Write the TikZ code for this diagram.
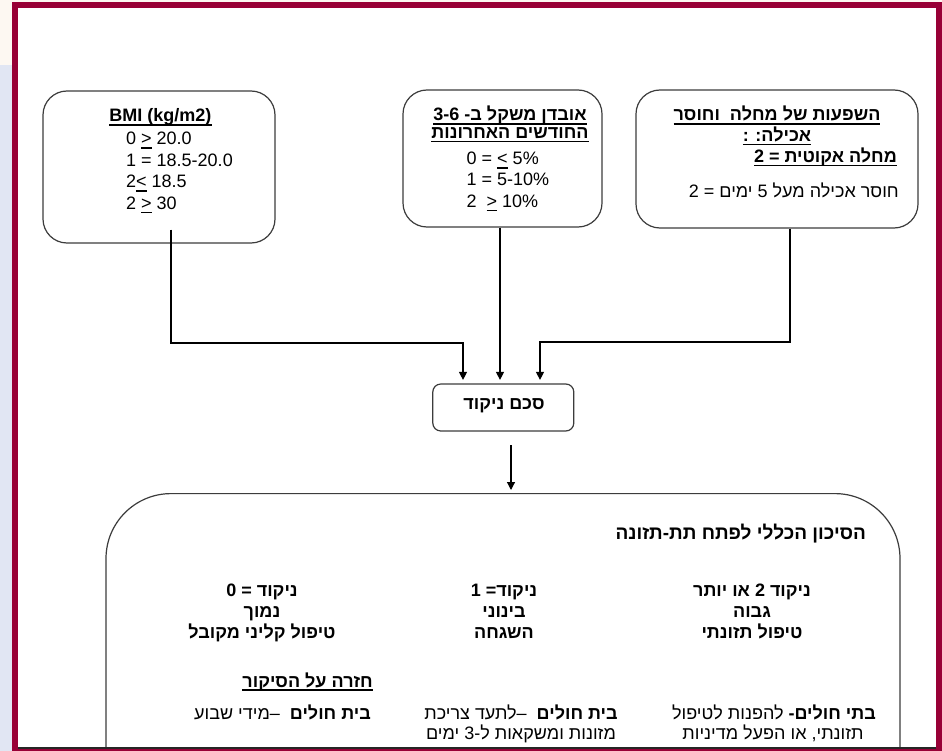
\documentclass[tikz,border=0pt]{standalone}
\usepackage{fontspec}
\setmainfont{Liberation Sans}
\newfontfamily\hebfont[Script=Hebrew]{Liberation Sans}
\usetikzlibrary{arrows.meta,calc}
\TeXXeTstate=1
% right-to-left and left-to-right runs
\newcommand{\rtl}[1]{{\hebfont\beginR #1\endR}}
\newcommand{\ltr}[1]{\beginL #1\endL}
% thick underline at a fixed depth below the baseline
\newsavebox{\ulsave}
\newcommand{\ulbox}[1]{\leavevmode\sbox{\ulsave}{#1}\rlap{\vrule height -2.2pt depth 3.8pt width \wd\ulsave}\usebox{\ulsave}}
\definecolor{framered}{RGB}{152,0,54}
\definecolor{pagecream}{RGB}{253,248,242}
\definecolor{sidelav}{RGB}{225,230,243}
\definecolor{boxgray}{RGB}{60,60,60}
\begin{document}
\begin{tikzpicture}[x=1pt,y=-1pt,
  tbox/.style={draw=boxgray, line width=1.2pt, rounded corners=24pt, inner sep=0pt},
  txt/.style={inner sep=0pt, font=\fontsize{18}{22}\selectfont},
  conn/.style={draw=black, line width=1.2pt},
  arr/.style={-{Triangle[width=8pt,length=8pt]}}]
\useasboundingbox (0,0) rectangle (942,751);
% page surround
\fill[pagecream] (0,0) rectangle (942,751);
\fill[sidelav] (0,65) rectangle (12,751);
\fill[white] (15,5) rectangle (939,752);

% ---- input boxes ----
\node[tbox, minimum width=232pt, minimum height=152pt] (bmi) at (159,167) {};
\node[tbox, minimum width=199pt, minimum height=137pt] (loss) at (502.5,158.5) {};
\node[tbox, minimum width=282pt, minimum height=138pt] (ill) at (777,159) {};

% BMI
\node[txt, anchor=base] (bmiH) at (160.5,122) {\textbf{\ulbox{BMI (kg/m2)}}};
\node[txt, anchor=base west] (bmi0) at (126,145) {0 \ulbox{>} 20.0};
\node[txt, anchor=base west] (bmi1) at (126,167) {1 = 18.5-20.0};
\node[txt, anchor=base west] (bmi2) at (126,188) {2\ulbox{<} 18.5};
\node[txt, anchor=base west] (bmi3) at (126,209.5) {2 \ulbox{>} 30};

% weight loss
\node[txt, anchor=base] (lossH1) at (510,121) {\textbf{\ulbox{\rtl{אובדן משקל ב- \ltr{3-6}}}}};
\node[txt, anchor=base] (lossH2) at (510,138.5) {\textbf{\ulbox{\rtl{החודשים האחרונות}}}};
\node[txt, anchor=base west] (loss0) at (466.5,165) {0 = \ulbox{<} 5\%};
\node[txt, anchor=base west] (loss1) at (466.5,186) {1 = 5-10\%};
\node[txt, anchor=base west] (loss2) at (466.5,207.5) {2\ \ \ulbox{>} 10\%};

% illness and not eating
\node[txt, anchor=base] (illH1) at (777,121) {\textbf{\ulbox{\rtl{השפעות של מחלה\ \ וחוסר}}}};
\node[txt, anchor=base] (illH2) at (777,141.5) {\textbf{\ulbox{\rtl{אכילה: :}}}};
\node[txt, anchor=base east] (illA) at (897,162.5) {\textbf{\ulbox{\rtl{מחלה אקוטית = 2}}}};
\node[txt, anchor=base east] (illB) at (899,198) {\rtl{חוסר אכילה מעל 5 ימים = 2}};

% ---- score sum ----
\node[tbox, rounded corners=8pt, minimum width=141pt, minimum height=47pt] (sum) at (503.3,407.5) {};
\node[txt, anchor=base] (sumT) at (504,409.3) {\textbf{\rtl{סכם ניקוד}}};

% ---- overall risk ----
\node[tbox, rounded corners=65pt, minimum width=794pt, minimum height=400pt, anchor=north] (risk) at (503,493) {};
\node[txt, anchor=base east] (riskH) at (866,539.3) {\fontsize{19}{22}\selectfont\textbf{\rtl{הסיכון הכללי לפתח תת-תזונה}}};

\node[txt, anchor=base] (hi1) at (752,596) {\textbf{\rtl{ניקוד 2 או יותר}}};
\node[txt, anchor=base] (hi2) at (752,617) {\textbf{\rtl{גבוה}}};
\node[txt, anchor=base] (hi3) at (752,638) {\textbf{\rtl{טיפול תזונתי}}};

\node[txt, anchor=base] (md1) at (504,596) {\textbf{\rtl{ניקוד= 1}}};
\node[txt, anchor=base] (md2) at (504,617) {\textbf{\rtl{בינוני}}};
\node[txt, anchor=base] (md3) at (504,638) {\textbf{\rtl{השגחה}}};

\node[txt, anchor=base] (lo1) at (262,596) {\textbf{\rtl{ניקוד = 0}}};
\node[txt, anchor=base] (lo2) at (262,617) {\textbf{\rtl{נמוך}}};
\node[txt, anchor=base] (lo3) at (262,638) {\textbf{\rtl{טיפול קליני מקובל}}};

\node[txt, anchor=base east] (rescreen) at (373,687) {\textbf{\ulbox{\rtl{חזרה על הסיקור}}}};

\node[txt, anchor=base] (hiA) at (774,719) {\rtl{\textbf{בתי חולים-} להפנות לטיפול}};
\node[txt, anchor=base] (hiB) at (773,739.5) {\rtl{תזונתי, או הפעל מדיניות}};
\node[txt, anchor=base] (mdA) at (521,719) {\rtl{\textbf{בית חולים}\ \ –לתעד צריכת}};
\node[txt, anchor=base] (mdB) at (521,739.5) {\rtl{מזונות ומשקאות ל-{}3 ימים}};
\node[txt, anchor=base east] (loA) at (371,719) {\rtl{\textbf{בית חולים}\ \ –מידי שבוע}};

% ---- connectors ----
\coordinate (k1) at (171,343);
\coordinate (k2) at (500,343);
\coordinate (k3) at (790,342);
\coordinate (t1) at (463,380);
\coordinate (t3) at (540,380);
\coordinate (a4) at (511,445);
\draw[conn, arr, shorten >=3.5pt] ([yshift=14pt]bmi.south -| k1) -- (k1) -| (sum.north -| t1);
\draw[conn, arr, shorten >=3.5pt] (loss.south -| k2) -- (sum.north -| k2);
\draw[conn, arr, shorten >=3.5pt] (ill.south -| k3) -- (k3) -| (sum.north -| t3);
\draw[conn, arr, shorten <=13.5pt, shorten >=3pt] (sum.south -| a4) -- (risk.north -| a4);

% ---- frame ----
\draw[framered, line width=6pt] (15,5) rectangle (939,752);
\draw[black!85, line width=1.5pt] (18,748) -- (936,748);
\end{tikzpicture}
\end{document}
